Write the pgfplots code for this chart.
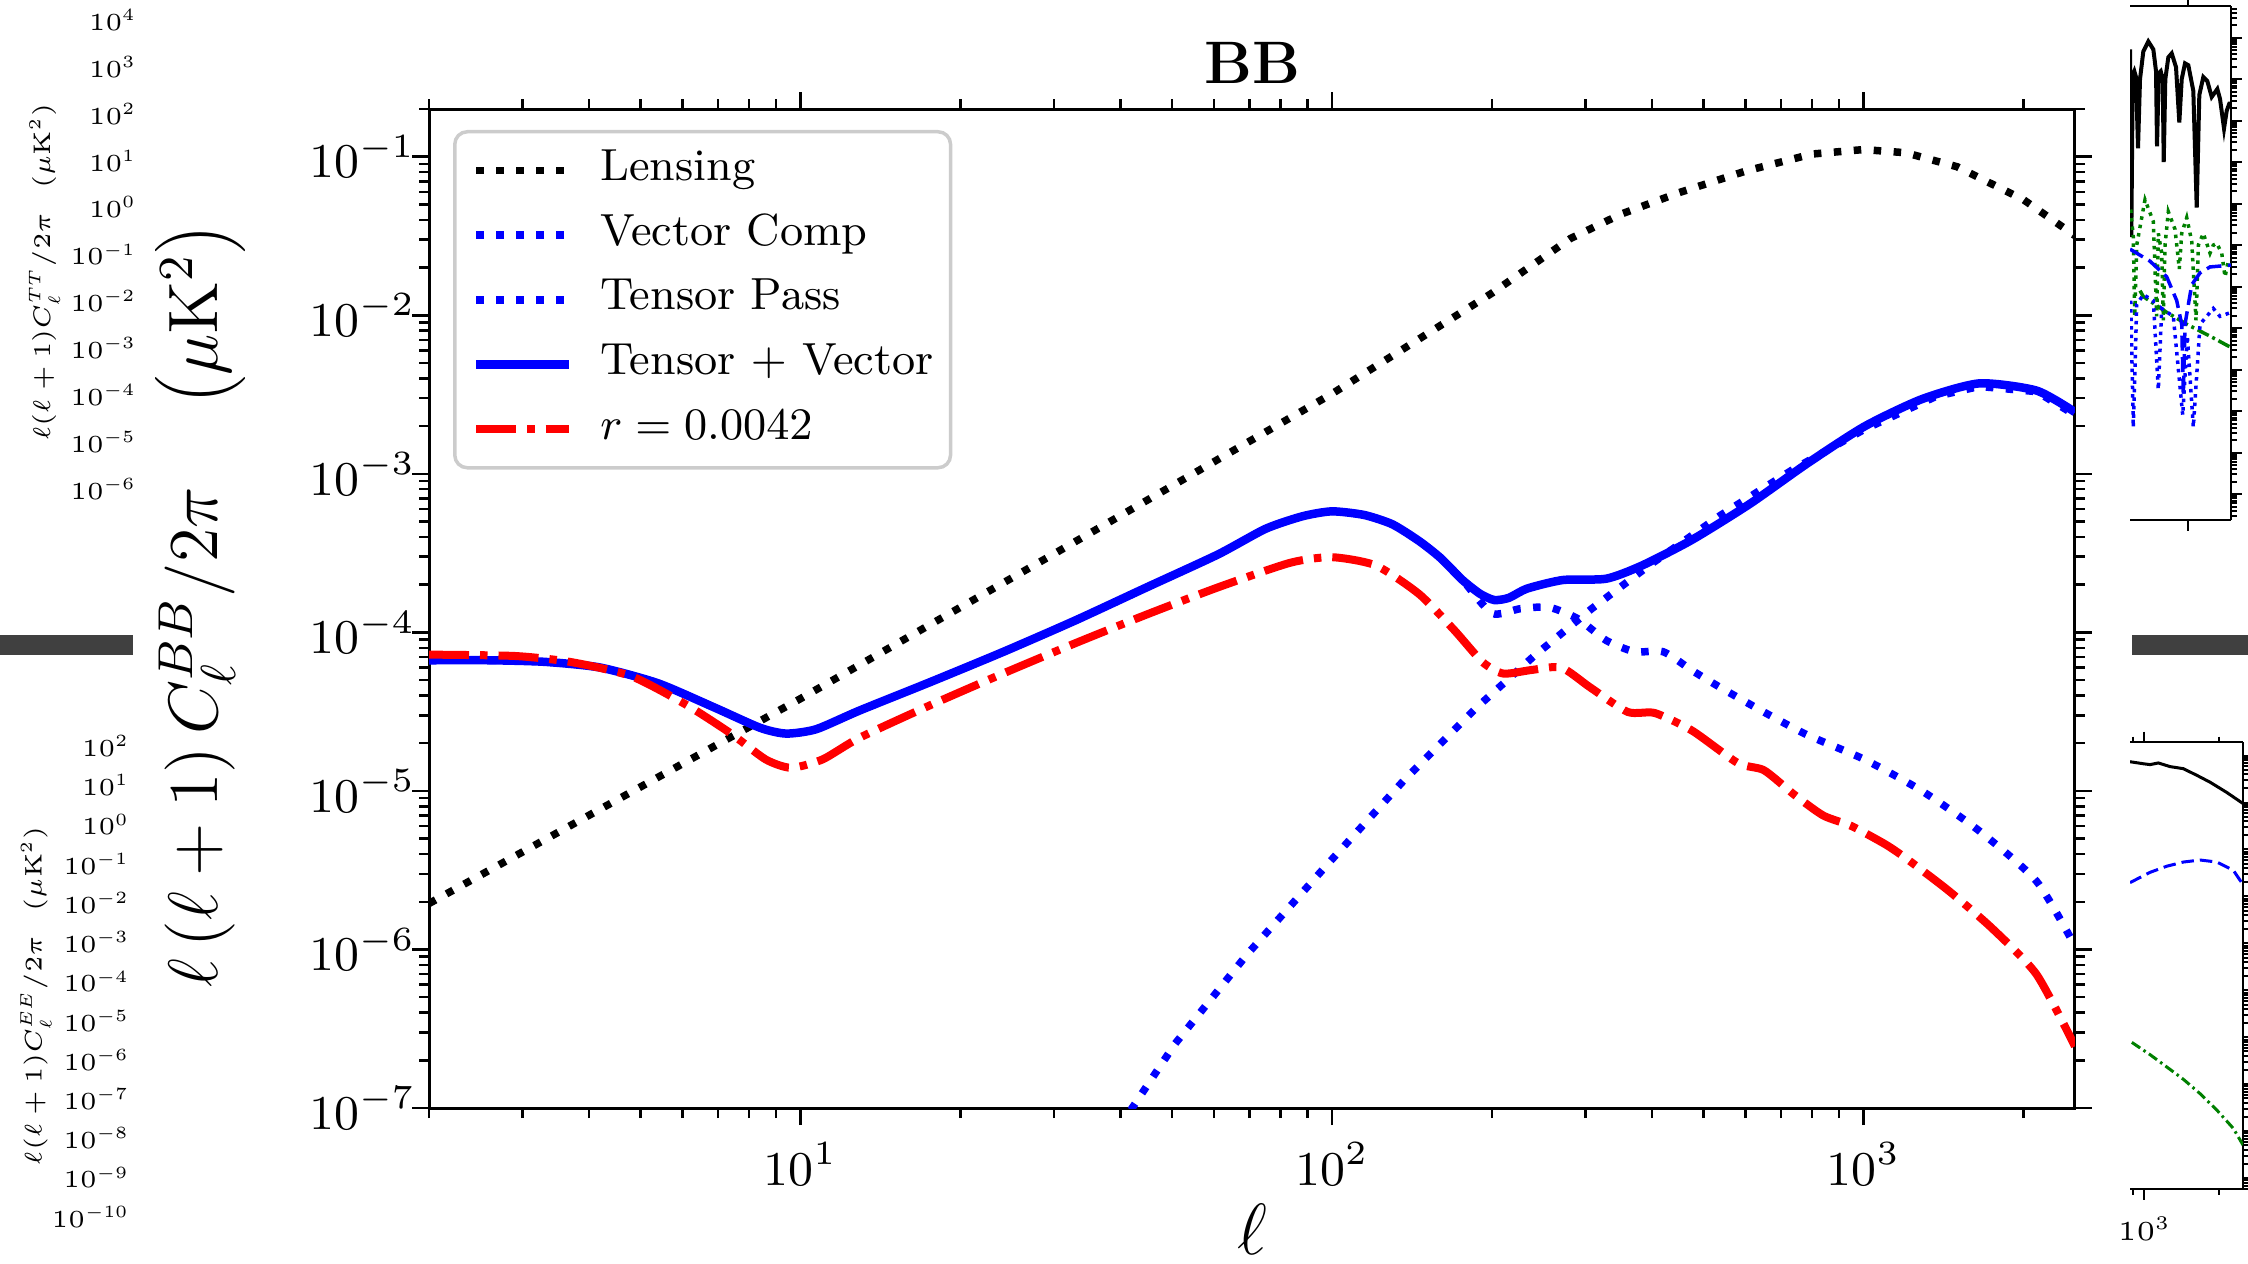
\RequirePackage{fix-cm}
\documentclass[border=0pt]{standalone}
\usepackage{pgfplots}
\pgfplotsset{compat=1.18}
\usepackage{pgfplotstable}

\definecolor{mplblue}{RGB}{0,0,255}
\definecolor{mplred}{RGB}{255,0,0}
\definecolor{mplgreen}{RGB}{0,128,0}
\definecolor{bargray}{RGB}{64,64,64}

\def\logminors{2e-10,3e-10,4e-10,5e-10,6e-10,7e-10,8e-10,9e-10,2e-9,3e-9,4e-9,5e-9,6e-9,7e-9,8e-9,9e-9,2e-8,3e-8,4e-8,5e-8,6e-8,7e-8,8e-8,9e-8,2e-7,3e-7,4e-7,5e-7,6e-7,7e-7,8e-7,9e-7,2e-6,3e-6,4e-6,5e-6,6e-6,7e-6,8e-6,9e-6,2e-5,3e-5,4e-5,5e-5,6e-5,7e-5,8e-5,9e-5,2e-4,3e-4,4e-4,5e-4,6e-4,7e-4,8e-4,9e-4,2e-3,3e-3,4e-3,5e-3,6e-3,7e-3,8e-3,9e-3,0.02,0.03,0.04,0.05,0.06,0.07,0.08,0.09,0.2,0.3,0.4,0.5,0.6,0.7,0.8,0.9,2,3,4,5,6,7,8,9,20,30,40,50,60,70,80,90,200,300,400,500}

% ---------------- main BB data ----------------
\pgfplotstableread{
l C
2 1.95e-6
5 1.06e-5
10 3.82e-5
30 3.13e-4
100 3.2e-3
200 1.38e-2
281 3.05e-2
350 4.35e-2
450 5.94e-2
600 8.12e-2
800 0.104
1000 0.111
1200 0.106
1500 0.0865
2000 0.0536
2500 0.0318
}\lensing

\pgfplotstableread{
l C
38 6e-8
50.7 2.55e-7
69.2 9.3e-7
98.1 3.45e-6
137 1.18e-5
187 3.35e-5
240 7.1e-5
308 1.41e-4
395 2.64e-4
538 5.47e-4
735 1.06e-3
1004 1.91e-3
1370 3.08e-3
1651 3.56e-3
2117 3.3e-3
2500 2.35e-3
}\vectorcomp

\pgfplotstableread{
l C
2 6.67e-5
2.6 6.67e-5
3.3 6.52e-5
4.2 6.0e-5
5.4 4.77e-5
6.9 3.35e-5
8.4 2.50e-5
9.4 2.30e-5
10.7 2.45e-5
12.9 3.21e-5
17.6 4.88e-5
24.1 7.55e-5
32.9 1.19e-4
44.9 1.93e-4
61 3.1e-4
75 4.5e-4
88 5.4e-4
100 5.8e-4
115 5.5e-4
130 4.8e-4
146 3.76e-4
160 2.95e-4
176 2.14e-4
200 1.32e-4
226 1.41e-4
256 1.44e-4
290 1.22e-4
328 8.9e-5
371 7.55e-5
420 7.55e-5
476 5.75e-5
538 4.49e-5
649 3.15e-5
783 2.26e-5
1004 1.58e-5
1288 1.0e-5
1651 5.6e-6
2117 2.69e-6
2500 1.05e-6
}\tensorpass

\pgfplotstableread{
l C
2 6.67e-5
2.6 6.67e-5
3.3 6.52e-5
4.2 6.0e-5
5.4 4.77e-5
6.9 3.35e-5
8.4 2.50e-5
9.4 2.30e-5
10.7 2.45e-5
12.9 3.21e-5
17.6 4.88e-5
24.1 7.55e-5
32.9 1.19e-4
44.9 1.93e-4
61 3.1e-4
75 4.5e-4
88 5.4e-4
100 5.8e-4
115 5.5e-4
130 4.8e-4
146 3.76e-4
160 2.95e-4
176 2.14e-4
190 1.75e-4
202 1.6e-4
215 1.65e-4
233 1.89e-4
272 2.14e-4
328 2.18e-4
383 2.64e-4
476 3.84e-4
611 6.46e-4
783 1.16e-3
1004 1.99e-3
1288 2.96e-3
1651 3.72e-3
2117 3.35e-3
2500 2.45e-3
}\tensorvector

\pgfplotstableread{
l C
2 7.24e-5
2.9 7.1e-5
3.7 6.5e-5
4.8 5.3e-5
6.1 3.49e-5
7.4 2.3e-5
8.6 1.58e-5
9.6 1.40e-5
11.0 1.58e-5
12.9 2.16e-5
17.6 3.49e-5
24.1 5.52e-5
32.9 8.55e-5
44.9 1.30e-4
61.2 1.93e-4
83.5 2.75e-4
100 2.98e-4
121 2.64e-4
146 1.74e-4
170 1.03e-4
192 6.5e-5
210 5.5e-5
238 5.8e-5
270 6.0e-5
306 4.5e-5
360 3.15e-5
405 3.1e-5
476 2.4e-5
580 1.5e-5
650 1.35e-5
740 9.5e-6
840 7.0e-6
950 6.0e-6
1100 4.6e-6
1210 3.7e-6
1450 2.33e-6
1750 1.35e-6
2117 6.95e-7
2500 2.45e-7
}\rtensor

% ---------------- right fragments ----------------
\pgfplotstableread{
x C
0 52
1.3 1.55e-3
2.7 12.5
4.3 15.5
6 11.2
8 0.215
10 10
13.3 46.5
18.3 80.5
23.3 52
26 15.5
27 0.24
28.7 13.9
30.7 15.5
32.7 10
33.7 0.1
35.3 10
38.3 33.5
41.7 41.7
46 19.4
49.3 0.895
51.7 10
55 24
58.3 21.6
63.3 5.2
66.7 8e-3
69.3 4.16
73.3 11.2
77.3 8.95
81.7 3.72
87.3 5.77
90 3.33
94 0.645
96.7 1.73
99.3 2.57
101 2.57
}\frTTblack

\pgfplotstableread{
x C
0.7 7.2e-3
3.3 1.55e-3
4.7 1.92e-5
6.7 1.0e-3
15 1.24e-2
23.3 3.7e-3
26.7 1.92e-5
28.3 1.92e-3
31.7 6.4e-4
33.3 1.54e-5
35 1.0e-3
38.3 6.4e-3
45 2.4e-3
49.3 2.67e-4
51.7 1.92e-3
56.7 4.6e-3
61.7 1.24e-3
66 1.54e-5
68.3 1.0e-3
73.3 1.92e-3
80 6.4e-4
83.3 1.0e-3
86.7 1.11e-3
91.7 6.4e-4
95 1.72e-4
98.3 4.1e-4
101 3.5e-4
}\frTTgreen

\pgfplotstableread{
x C
10 8e-5
13.3 5.75e-5
36.7 2.4e-5
56.7 1.24e-5
80 6.4e-6
98.3 3.7e-6
101 3.5e-6
}\frTTgreendd

\pgfplotstableread{
x C
0 8.0e-4
20 4.1e-4
36.7 1.72e-4
46.7 4.6e-5
51.7 1.24e-5
53.3 2.4e-7
55 1.24e-5
61.7 1.11e-4
70 2.14e-4
80 2.98e-4
101 3.3e-4
}\frTTbluedash

\pgfplotstableread{
x C
0.7 4.6e-5
3.3 4.1e-8
6.7 3.7e-5
13.3 6.4e-5
23.3 4.6e-5
28.3 3.3e-7
31.7 2.98e-5
43.3 1.92e-5
52.7 8.0e-8
57.3 6.4e-6
63.3 4.1e-8
70 1.24e-5
83.3 2.98e-5
90 1.92e-5
101 2.4e-5
}\frTTbluedot

\pgfplotstableread{
l C
875 0.738
991 0.668
1054 0.641
1138 0.695
1269 0.581
1436 0.525
1626 0.380
1842 0.270
2148 0.164
2500 0.095
}\frEEblack

\pgfplotstableread{
l C
875 1.97e-3
1054 3.26e-3
1231 4.4e-3
1436 5.4e-3
1679 5.96e-3
1959 5.4e-3
2285 3.6e-3
2500 1.78e-3
}\frEEblue

\pgfplotstableread{
l C
890 7.8e-7
1054 4.28e-7
1231 2.34e-7
1436 1.28e-7
1679 6.3e-8
1959 2.84e-8
2285 1.15e-8
2500 5.1e-9
}\frEEgreen

\begin{document}
\begin{tikzpicture}[x=1pt,y=1pt]

% dark separator bars
\fill[bargray] (0,121.6) rectangle (26.6,125.6);
\fill[bargray] (426.4,121.6) rectangle (449.6,125.6);

% ---- left fragment: TT tick labels ----
\begin{axis}[
  at={(27.5pt,154.9pt)}, anchor=south west,
  scale only axis, width=10pt, height=93.7pt,
  xmin=0, xmax=1, ymode=log, ymin=1e-6, ymax=1e4,
  hide x axis, axis line style={draw=none}, tick style={draw=none},
  major tick length=0pt, yminorticks=false,
  ytick={1e-6,1e-5,1e-4,1e-3,1e-2,1e-1,1,1e1,1e2,1e3,1e4},
  yticklabel style={font=\fontsize{4.9}{6}\selectfont, anchor=east, inner sep=0pt},
  ylabel={$\ell(\ell+1)C_\ell^{TT}/2\pi\quad(\mu\mathrm{K}^2)$},
  ylabel style={font=\fontsize{4.8}{6}\selectfont, at={(axis description cs:-1.86,0.462)}, anchor=center},
]
\end{axis}

% ---- left fragment: EE tick labels ----
\begin{axis}[
  at={(26.1pt,9.3pt)}, anchor=south west,
  scale only axis, width=10pt, height=94.1pt,
  xmin=0, xmax=1, ymode=log, ymin=1e-10, ymax=1e2,
  hide x axis, axis line style={draw=none}, tick style={draw=none},
  major tick length=0pt, yminorticks=false,
  ytick={1e-10,1e-9,1e-8,1e-7,1e-6,1e-5,1e-4,1e-3,1e-2,1e-1,1,1e1,1e2},
  yticklabel style={font=\fontsize{4.9}{6}\selectfont, anchor=east, inner sep=0pt},
  ylabel={$\ell(\ell+1)C_\ell^{EE}/2\pi\quad(\mu\mathrm{K}^2)$},
  ylabel style={font=\fontsize{4.8}{6}\selectfont, at={(axis description cs:-1.89,0.469)}, anchor=center},
]
\end{axis}

% ---- right fragment: top (TT) ----
\begin{axis}[
  at={(426pt,148.6pt)}, anchor=south west,
  scale only axis, width=20.2pt, height=102.8pt,
  xmin=0, xmax=101, ymode=log, ymin=2.38e-10, ymax=577,
  axis x line*=box, axis y line*=right,
  xtick={58}, xticklabels={},
  ytick={1e-9,1e-8,1e-7,1e-6,1e-5,1e-4,1e-3,1e-2,1e-1,1,1e1,1e2}, yticklabels={},
  minor ytick/.expand once=\logminors,
  tick align=outside, major tick length=2.1pt, minor tick length=1.1pt,
  axis line style={line width=0.45pt}, tick style={line width=0.4pt, black},
]
\addplot[black, line width=0.8pt] table {\frTTblack};
\addplot[mplgreen, line width=0.7pt, dash pattern=on 0.7pt off 1pt] table {\frTTgreen};
\addplot[mplgreen, line width=0.7pt, dash pattern=on 2.5pt off 0.8pt on 0.6pt off 0.8pt] table {\frTTgreendd};
\addplot[mplblue, line width=0.7pt, dash pattern=on 3pt off 1.3pt] table {\frTTbluedash};
\addplot[mplblue, line width=0.7pt, dash pattern=on 0.7pt off 1pt] table {\frTTbluedot};
\end{axis}

% ---- right fragment: bottom (EE) ----
\begin{axis}[
  at={(426pt,14.8pt)}, anchor=south west,
  scale only axis, width=22.6pt, height=89.4pt,
  xmode=log, xmin=875, xmax=2500, ymode=log, ymin=5.9e-10, ymax=1.94,
  axis x line*=box, axis y line*=right,
  xtick={1000}, minor xtick={900,2000},
  xticklabel style={font=\fontsize{5.5}{6}\selectfont},
  ytick={1e-9,1e-8,1e-7,1e-6,1e-5,1e-4,1e-3,1e-2,1e-1,1}, yticklabels={},
  minor ytick/.expand once=\logminors,
  tick align=outside, major tick length=2.1pt, minor tick length=1.1pt,
  axis line style={line width=0.45pt}, tick style={line width=0.4pt, black},
]
\addplot[black, line width=0.6pt] table {\frEEblack};
\addplot[mplblue, line width=0.6pt, dash pattern=on 2.5pt off 1.2pt] table {\frEEblue};
\addplot[mplgreen, line width=0.6pt, dash pattern=on 2pt off 0.8pt on 0.5pt off 0.8pt] table {\frEEgreen};
\end{axis}

% ---- main BB axis ----
\begin{axis}[
  at={(85.8pt,31pt)}, anchor=south west,
  scale only axis, width=329.2pt, height=199.8pt,
  xmode=log, ymode=log,
  xmin=2, xmax=2500, ymin=1e-7, ymax=0.2,
  xtick={10,100,1000},
  minor xtick={2,3,4,5,6,7,8,9,20,30,40,50,60,70,80,90,200,300,400,500,600,700,800,900,2000},
  ytick={1e-7,1e-6,1e-5,1e-4,1e-3,1e-2,1e-1},
  minor ytick/.expand once=\logminors,
  tick align=outside,
  major tick length=3.4pt, minor tick length=2pt,
  tick style={black, line width=0.5pt},
  axis line style={line width=0.6pt},
  tick label style={font=\fontsize{9.7}{11}\selectfont},
  yticklabel style={inner sep=0pt, xshift=0.8pt},
  xlabel={$\ell$},
  xlabel style={font=\fontsize{14.5}{16}\selectfont, at={(axis description cs:0.5,-0.121)}, anchor=center},
  ylabel={$\ell\left(\ell+1\right)C_\ell^{BB}/2\pi\quad\left(\mu\mathrm{K}^2\right)$},
  ylabel style={font=\fontsize{14}{16}\selectfont, at={(axis description cs:-0.139,0.503)}, anchor=center},
  legend style={at={(axis description cs:0.0146,0.979)}, anchor=north west,
    draw=black!20, line width=0.7pt, rounded corners=2.5pt, fill=white, fill opacity=0.8, text opacity=1,
    font=\fontsize{9}{11}\selectfont, inner xsep=3.4pt, inner ysep=3.2pt, row sep=3.95pt,
    /tikz/column sep=5.4pt, nodes={inner sep=0pt, text height=6.5pt, text depth=2.5pt}},
  legend cell align=left,
  legend image code/.code={\draw[#1] (0pt,0pt) -- (18.6pt,0pt);},
]
\addplot[black, line width=1.5pt, dash pattern=on 1.5pt off 2.5pt] table {\lensing};
\addlegendentry{Lensing}
\addplot[mplblue, line width=1.5pt, dash pattern=on 1.5pt off 2.5pt] table {\vectorcomp};
\addlegendentry{Vector Comp}
\addplot[mplblue, line width=1.5pt, dash pattern=on 1.5pt off 2.5pt, smooth, tension=0.4] table {\tensorpass};
\addlegendentry{Tensor Pass}
\addplot[mplblue, line width=1.7pt, smooth, tension=0.4] table {\tensorvector};
\addlegendentry{Tensor $+$ Vector}
\addplot[mplred, line width=1.6pt, dash pattern=on 8pt off 2.2pt on 1.5pt off 2.2pt, smooth, tension=0.4] table {\rtensor};
\addlegendentry{$r = 0.0042$}
\end{axis}

\node[font=\fontsize{12}{14}\selectfont\bfseries, anchor=base] at (250.4,236) {BB};

\pgfresetboundingbox
\path[use as bounding box] (0,0) rectangle (449.6,252.6);
\end{tikzpicture}
\end{document}
